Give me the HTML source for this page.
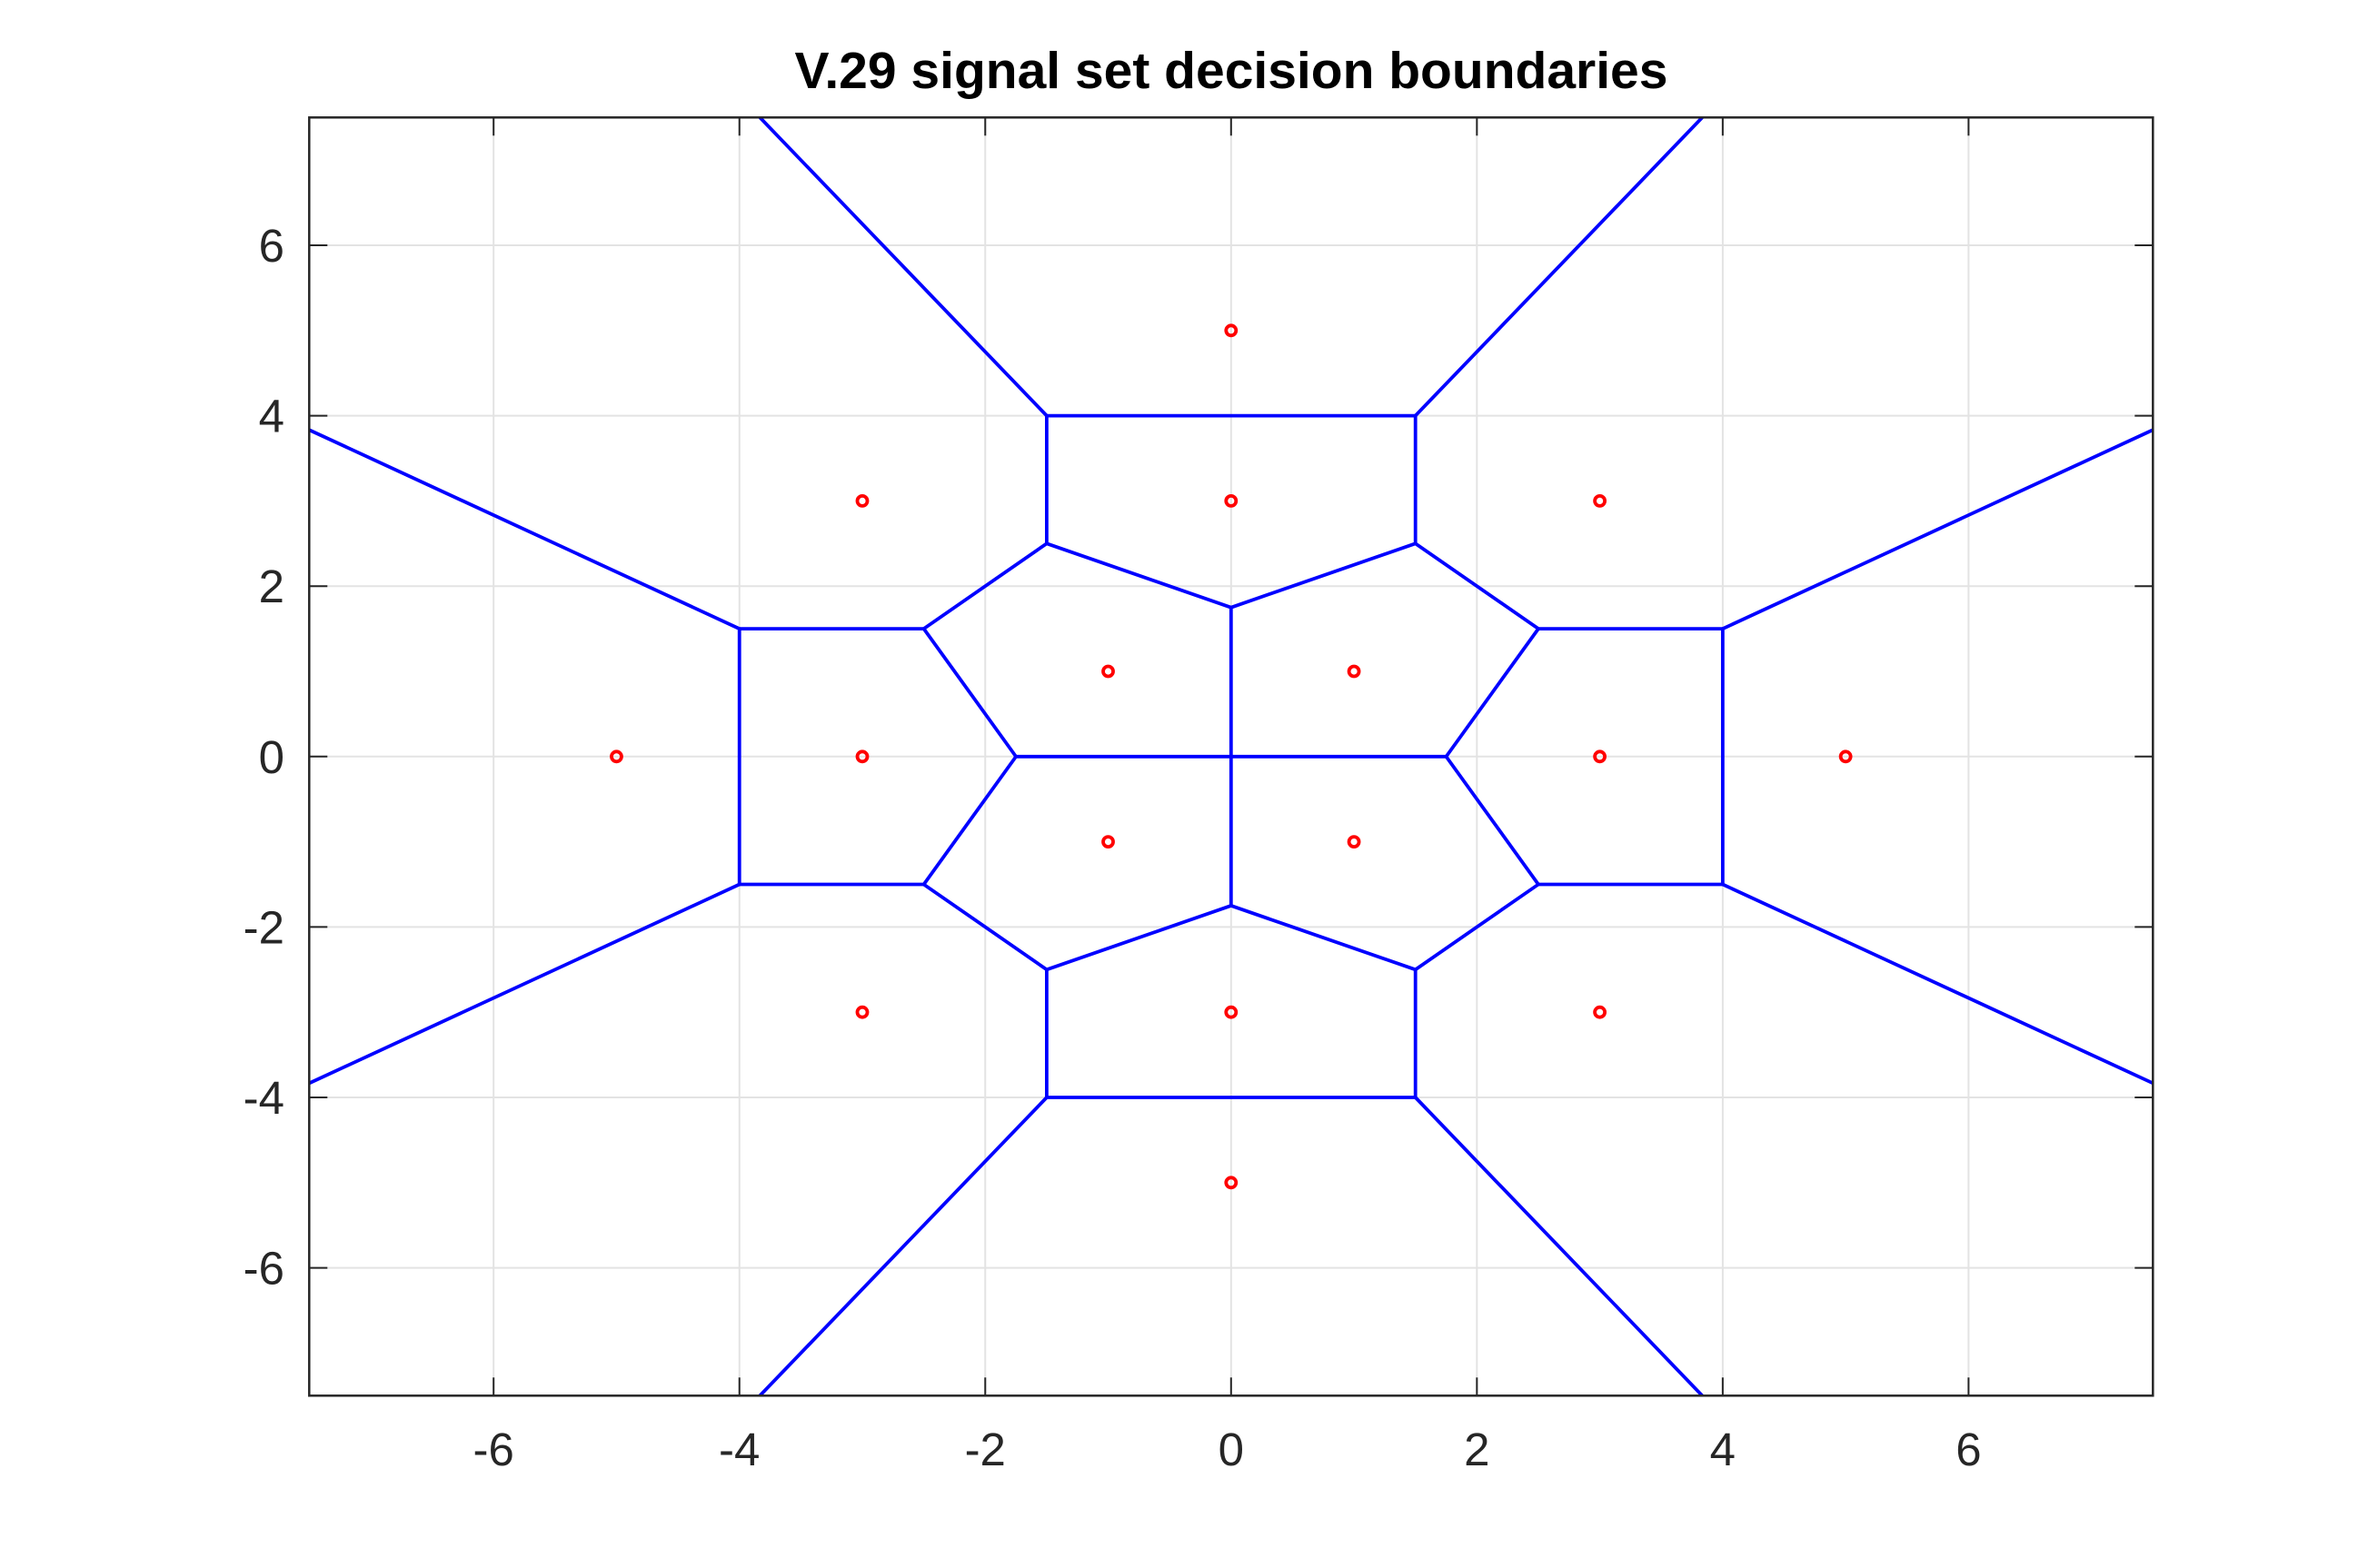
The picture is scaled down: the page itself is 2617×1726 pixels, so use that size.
<!DOCTYPE html>
<html><head><meta charset="utf-8"><style>
html,body{margin:0;padding:0;background:#fff;width:2617px;height:1726px;overflow:hidden;position:relative;}
svg{display:block;position:absolute;left:0;top:0;width:2617px;height:1726px;overflow:hidden;}
text{font-family:"Liberation Sans",sans-serif;fill:#262626;}
</style></head><body>
<svg id="chart" width="2617" height="1726" viewBox="0 0 2617 1726" xmlns="http://www.w3.org/2000/svg">
<rect width="2617" height="1726" fill="#fff"/>
<defs><clipPath id="clip"><rect x="340.3" y="129.3" width="2029" height="1407"/></clipPath></defs>
<text x="1355" y="97" text-anchor="middle" font-size="57" font-weight="bold" style="fill:#000">V.29 signal set decision boundaries</text>
<g id="grid"></g>
<g id="lines" clip-path="url(#clip)"></g>
<g id="pts"></g>
<g id="axes"></g>
</svg>
<script>
const xTicks=[-6,-4,-2,0,2,4,6];
const yTicks=[-6,-4,-2,0,2,4,6];
const xLim=[-7.5,7.5];
const yLim=[-7.5,7.5];
const pointsX=[0,0,5,-5,3,3,-3,-3,0,0,3,-3,1,1,-1,-1];
const pointsY=[5,-5,0,0,3,-3,3,-3,3,-3,0,0,1,-1,1,-1];
// boundary segments [x1,y1,x2,y2]
const segments=[
[0,1.75,0,-1.75],[-1.75,0,1.75,0],
[0,1.75,1.5,2.5],[0,1.75,-1.5,2.5],[0,-1.75,1.5,-2.5],[0,-1.75,-1.5,-2.5],
[1.5,2.5,2.5,1.5],[-1.5,2.5,-2.5,1.5],[1.5,-2.5,2.5,-1.5],[-1.5,-2.5,-2.5,-1.5],
[2.5,1.5,1.75,0],[1.75,0,2.5,-1.5],[-2.5,1.5,-1.75,0],[-1.75,0,-2.5,-1.5],
[-1.5,4,1.5,4],[-1.5,4,-1.5,2.5],[1.5,4,1.5,2.5],
[-1.5,-4,1.5,-4],[-1.5,-4,-1.5,-2.5],[1.5,-4,1.5,-2.5],
[-4,1.5,-2.5,1.5],[-4,1.5,-4,-1.5],[-4,-1.5,-2.5,-1.5],
[4,1.5,2.5,1.5],[4,1.5,4,-1.5],[4,-1.5,2.5,-1.5],
[-1.5,4,-7.5,13],[1.5,4,7.5,13],[-1.5,-4,-7.5,-13],[1.5,-4,7.5,-13],
[-4,1.5,-13,7.5],[4,1.5,13,7.5],[-4,-1.5,-13,-7.5],[4,-1.5,13,-7.5]
];
const L=340.3,R=2369.3,T=129.3,B=1536.3;
const sx=v=>L+(v-xLim[0])/(xLim[1]-xLim[0])*(R-L);
const sy=v=>B-(v-yLim[0])/(yLim[1]-yLim[0])*(B-T);
const NS="http://www.w3.org/2000/svg";
function mk(tag,attrs,parent){const e=document.createElementNS(NS,tag);for(const k in attrs)e.setAttribute(k,attrs[k]);parent.appendChild(e);return e;}
const grid=document.getElementById('grid'),lines=document.getElementById('lines'),pts=document.getElementById('pts'),axes=document.getElementById('axes');
xTicks.forEach(v=>{const x=sx(v);
 const g=mk('line',{x1:x,y1:T,x2:x,y2:B,stroke:'#e3e3e3','stroke-width':2},grid);
 
 
 const t1=mk('line',{x1:x,y1:B,x2:x,y2:B-20,stroke:'#262626','stroke-width':2},axes);
 
 
 const t2=mk('line',{x1:x,y1:T,x2:x,y2:T+20,stroke:'#262626','stroke-width':2},axes);
 
 
 const lb=mk('text',{x:x,y:1613,'text-anchor':'middle','font-size':51},axes);lb.textContent=v;
 
 
});
yTicks.forEach(v=>{const y=sy(v);
 const g=mk('line',{x1:L,y1:y,x2:R,y2:y,stroke:'#e3e3e3','stroke-width':2},grid);
 
 
 const t1=mk('line',{x1:L,y1:y,x2:L+20,y2:y,stroke:'#262626','stroke-width':2},axes);
 
 
 const t2=mk('line',{x1:R,y1:y,x2:R-20,y2:y,stroke:'#262626','stroke-width':2},axes);
 
 
 const lb=mk('text',{x:313,y:y+18,'text-anchor':'end','font-size':51},axes);lb.textContent=v;
 
 
});
segments.forEach(s=>{
 const l=mk('line',{x1:sx(s[0]),y1:sy(s[1]),x2:sx(s[2]),y2:sy(s[3]),stroke:'#0000ff','stroke-width':3.8,'stroke-linecap':'round'},lines);
 
 
});
pointsX.forEach((px,i)=>{
 const c=mk('circle',{cx:sx(px),cy:sy(pointsY[i]),r:5.5,fill:'none',stroke:'#ff0000','stroke-width':3.8},pts);
 
 
});
const box=mk('rect',{x:L,y:T,width:R-L,height:B-T,fill:'none',stroke:'#262626','stroke-width':2.5},axes);


</script>
</body></html>
